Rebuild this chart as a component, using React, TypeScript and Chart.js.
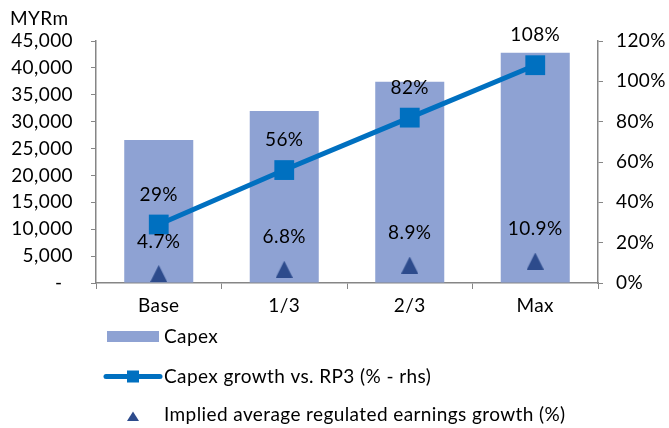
import React, { useEffect, useRef } from "react";
import { Chart, registerables } from "chart.js";

Chart.register(...registerables);

const categories = ["Base", "1/3", "2/3", "Max"];
const capex = [26600, 32000, 37400, 42800];
const capexGrowth = [29, 56, 82, 108];
const earningsGrowth = [4.7, 6.8, 8.9, 10.9];
const capexGrowthLabels = ["29%", "56%", "82%", "108%"];
const earningsGrowthLabels = ["4.7%", "6.8%", "8.9%", "10.9%"];
const legendLabels = [
  "Capex",
  "Capex growth vs. RP3 (% - rhs)",
  "Implied average regulated earnings growth (%)",
];
const leftAxisTitle = "MYRm";
const leftMax = 45000;
const leftStep = 5000;
const rightMax = 120;
const rightStep = 20;

const BAR = "#8EA2D3";
const LINE = "#0070C0";
const TRI = "#2D4B8C";
const AXIS = "#868686";
const FONT = "Lato";
const FSIZE = 19;
const SPACING = "0.4px";

function makeTriangle(w: number, h: number, color: string) {
  const c = document.createElement("canvas");
  c.width = w;
  c.height = h;
  const ctx = c.getContext("2d")!;
  ctx.fillStyle = color;
  ctx.beginPath();
  ctx.moveTo(w / 2, 0);
  ctx.lineTo(w, h);
  ctx.lineTo(0, h);
  ctx.closePath();
  ctx.fill();
  return c;
}

export default function App() {
  const ref = useRef<HTMLCanvasElement | null>(null);

  useEffect(() => {
    if (!ref.current) return;
    const tri = makeTriangle(17, 17, TRI);

    const overlay = {
      id: "overlay",
      beforeDraw(chart: any) {
        (chart.ctx as any).letterSpacing = SPACING;
      },
      afterDatasetsDraw(chart: any) {
        const ctx = chart.ctx;
        ctx.save();
        (ctx as any).letterSpacing = SPACING;
        ctx.font = `${FSIZE}px ${FONT}`;
        ctx.fillStyle = "#000";
        ctx.textAlign = "center";
        ctx.textBaseline = "middle";
        const m1 = chart.getDatasetMeta(1);
        m1.data.forEach((p: any, i: number) => {
          ctx.fillText(capexGrowthLabels[i], p.x, p.y - 30);
        });
        const m2 = chart.getDatasetMeta(2);
        m2.data.forEach((p: any, i: number) => {
          ctx.fillText(earningsGrowthLabels[i], p.x, p.y - 32);
        });
        ctx.restore();
      },
      afterDraw(chart: any) {
        const ctx = chart.ctx;
        ctx.save();
        (ctx as any).letterSpacing = SPACING;
        ctx.font = `${FSIZE}px ${FONT}`;
        ctx.fillStyle = "#000";
        ctx.textAlign = "left";
        ctx.textBaseline = "middle";
        ctx.fillText(leftAxisTitle, 10, 19);

        // legend
        ctx.fillStyle = BAR;
        ctx.fillRect(107, 331, 52, 11);
        ctx.fillStyle = "#000";
        ctx.fillText(legendLabels[0], 164, 337);

        ctx.strokeStyle = LINE;
        ctx.lineWidth = 5;
        ctx.lineCap = "round";
        ctx.beginPath();
        ctx.moveTo(106, 376.5);
        ctx.lineTo(160, 376.5);
        ctx.stroke();
        ctx.fillStyle = LINE;
        ctx.fillRect(127, 370.5, 12, 12);
        ctx.fillStyle = "#000";
        ctx.fillText(legendLabels[1], 164, 377);

        ctx.fillStyle = TRI;
        ctx.beginPath();
        ctx.moveTo(133, 411.5);
        ctx.lineTo(139, 421);
        ctx.lineTo(127, 421);
        ctx.closePath();
        ctx.fill();
        ctx.fillStyle = "#000";
        ctx.fillText(legendLabels[2], 164, 415);
        ctx.restore();
      },
    };

    const tickFont = { family: FONT, size: FSIZE };

    const chart = new Chart(ref.current, {
      type: "bar",
      data: {
        labels: categories,
        datasets: [
          {
            type: "bar",
            label: legendLabels[0],
            data: capex,
            backgroundColor: BAR,
            yAxisID: "y",
            barPercentage: 0.55,
            categoryPercentage: 1,
            order: 3,
          },
          {
            type: "line",
            label: legendLabels[1],
            data: capexGrowth,
            borderColor: LINE,
            backgroundColor: LINE,
            borderWidth: 5,
            pointStyle: "rect",
            pointRadius: 14,
            pointBorderWidth: 0,
            pointBackgroundColor: LINE,
            yAxisID: "y1",
            order: 2,
          },
          {
            type: "line",
            label: legendLabels[2],
            data: earningsGrowth,
            showLine: false,
            pointStyle: tri as any,
            pointRadius: 9,
            backgroundColor: TRI,
            borderColor: TRI,
            yAxisID: "y1",
            order: 1,
          },
        ] as any,
      },
      options: {
        animation: false,
        responsive: true,
        maintainAspectRatio: false,
        layout: { padding: { left: 0, right: 0, top: 41, bottom: 115 } },
        plugins: {
          legend: { display: false },
          tooltip: { enabled: false },
        },
        scales: {
          x: {
            grid: {
              offset: true,
              drawOnChartArea: false,
              drawTicks: true,
              tickLength: 6,
              color: AXIS,
            },
            border: { color: AXIS, width: 1.5 },
            ticks: { font: tickFont, color: "#000", padding: 5 },
            afterFit: (s: any) => {
              s.height = 30;
            },
          },
          y: {
            position: "left",
            min: 0,
            max: leftMax,
            grid: { drawOnChartArea: false, tickLength: 5, color: AXIS },
            border: { color: AXIS, width: 1.5 },
            ticks: {
              stepSize: leftStep,
              font: tickFont,
              color: "#000",
              padding: 18,
              callback: (v: any) =>
                v === 0 ? "-  " : Number(v).toLocaleString("en-US"),
            },
            afterFit: (s: any) => {
              s.width = 96;
            },
          },
          y1: {
            position: "right",
            min: 0,
            max: rightMax,
            grid: { drawOnChartArea: false, tickLength: 5, color: AXIS },
            border: { color: AXIS, width: 1.5 },
            ticks: {
              stepSize: rightStep,
              font: tickFont,
              color: "#000",
              padding: 13,
              callback: (v: any) => `${v}%`,
            },
            afterFit: (s: any) => {
              s.width = 71;
            },
          },
        },
      } as any,
      plugins: [overlay],
    });
    return () => chart.destroy();
  }, []);

  return (
    <div
      style={{
        position: "fixed",
        left: 0,
        top: 0,
        width: 669,
        height: 428,
        background: "#fff",
      }}
    >
      <canvas ref={ref} />
    </div>
  );
}
